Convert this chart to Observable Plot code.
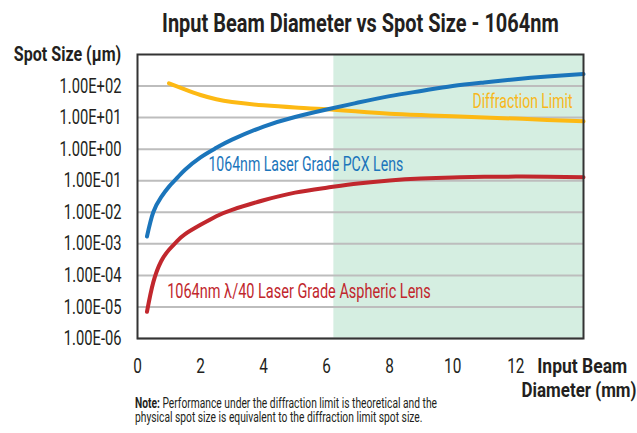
<!DOCTYPE html>
<html>
<head>
<meta charset="utf-8">
<script src="https://cdn.jsdelivr.net/npm/d3@7"></script>
<script src="https://cdn.jsdelivr.net/npm/@observablehq/plot@0.6"></script>
<style>
  html, body { margin: 0; padding: 0; background: #fff; }
  body { position: relative; width: 637px; height: 433px; overflow: hidden; font-family: Roboto, "Liberation Sans", sans-serif; color: #231f20; }
  #title { position: absolute; left: 0; top: 3px; width: 637px; line-height: 40px; font-size: 25.5px; font-weight: bold; text-align: center; padding-left: 83px; box-sizing: border-box; white-space: nowrap; }
  #title span { display: inline-block; transform-origin: 50% 50%; }
  #chart { position: absolute; left: 0; top: 40px; }
  #chart svg { display: block; }
  #note { position: absolute; left: 135px; top: 397.4px; font-size: 14.5px; line-height: 13.3px; white-space: nowrap; }
  #note span { display: inline-block; transform-origin: 0 50%; }
</style>
</head>
<body>
<div id="title"><span>Input Beam Diameter vs Spot Size - 1064nm</span></div>
<div id="chart"></div>
<div id="note"><span><b>Note:</b> Performance under the diffraction limit is theoretical and the</span><br><span>physical spot size is equivalent to the diffraction limit spot size.</span></div>
<script>
// ---- data ----
const lensDiameter = [0.3, 0.5, 0.75, 1, 1.25, 1.5, 2, 2.5, 3, 4, 5, 6, 7, 8, 9, 10, 11, 12, 13, 14.15];
const pcxSpot =      [0.0017, 0.010, 0.030, 0.065, 0.12, 0.22, 0.55, 1.1, 2.0, 5.2, 10.5, 18, 30, 48, 70, 100, 130, 165, 200, 240];
const asphereSpot =  [7e-6, 6e-5, 2.8e-4, 6.5e-4, 1.2e-3, 2.0e-3, 4.0e-3, 7.5e-3, 0.012, 0.024, 0.042, 0.060, 0.082, 0.102, 0.117, 0.127, 0.133, 0.135, 0.133, 0.128];
const diffDiameter = [1, 1.5, 2, 2.5, 3, 4, 5, 6, 7, 8, 9, 10, 11, 12, 13, 14.15];
const diffSpot =     [122, 78, 52, 38, 31, 24.5, 21, 18.5, 15.5, 13.2, 12, 11, 10, 9.3, 8.4, 7.6];
const yTicks = [1e-6, 1e-5, 1e-4, 1e-3, 1e-2, 1e-1, 1e0, 1e1, 1e2];
const xTicks = [0, 2, 4, 6, 8, 10, 12];
const shadeStart = 6.23;
const shadeEnd = 14.15;
const seriesNames = ["1064nm Laser Grade PCX Lens", "1064nm λ/40 Laser Grade Aspheric Lens", "Diffraction Limit"];
const yLabel = "Spot Size (μm)";
const xLabelLines = ["Input Beam", "Diameter (mm)"];

const C_BLUE = "#1b75bb", C_RED = "#c1272d", C_YEL = "#fdb913", C_YEL_TXT = "#f8b71a";
const FONT = 'Roboto, "Liberation Sans", sans-serif';

const pcx = lensDiameter.map((x, i) => ({x, y: pcxSpot[i]}));
const asph = lensDiameter.map((x, i) => ({x, y: asphereSpot[i]}));
const diff = diffDiameter.map((x, i) => ({x, y: diffSpot[i]}));

function fmtSci(d) {
  const [m, e] = d.toExponential(2).split("e");
  const n = +e;
  return `${m}E${n < 0 ? "-" : "+"}${String(Math.abs(n)).padStart(2, "0")}`;
}

const chart = Plot.plot({
  width: 637,
  height: 352,
  marginLeft: 137,
  marginRight: 54,
  marginTop: 14,
  marginBottom: 54,
  style: {fontFamily: FONT, color: "#231f20", background: "transparent", overflow: "visible"},
  x: {domain: [0, 14.15]},
  y: {type: "log", domain: [1e-6, 1e3]},
  marks: [
    Plot.rect([{x1: shadeStart, x2: shadeEnd}], {x1: "x1", x2: "x2", fill: "#d5eee1"}),
    Plot.ruleY(yTicks, {stroke: "#bdbdbd", strokeWidth: 2}),
    Plot.axisY({ticks: yTicks, tickFormat: fmtSci, tickSize: 0, tickPadding: 16, fontSize: 20.5, label: null}),
    Plot.axisX({ticks: xTicks, tickFormat: d => String(d), tickSize: 0, tickPadding: 20, fontSize: 21, label: null}),
    Plot.line(diff, {x: "x", y: "y", stroke: C_YEL, strokeWidth: 4, curve: "natural", strokeLinecap: "round"}),
    Plot.line(pcx, {x: "x", y: "y", stroke: C_BLUE, strokeWidth: 4, curve: "natural", strokeLinecap: "round"}),
    Plot.line(asph, {x: "x", y: "y", stroke: C_RED, strokeWidth: 4, curve: "natural", strokeLinecap: "round"}),
    Plot.text([seriesNames[0]], {x: () => 2.25, y: () => 0.32, text: d => d, fill: C_BLUE, textAnchor: "start", fontSize: 20.5}),
    Plot.text([seriesNames[1]], {x: () => 0.94, y: () => 3.14e-5, text: d => d, fill: C_RED, textAnchor: "start", fontSize: 20.5}),
    Plot.text([seriesNames[2]], {x: () => 13.8, y: () => 33.6, text: d => d, fill: C_YEL_TXT, textAnchor: "end", fontSize: 20.5}),
    Plot.frame({stroke: "#333", strokeWidth: 2}),
    Plot.text([yLabel], {frameAnchor: "top-left", dx: -16.3, dy: 0, textAnchor: "end", lineAnchor: "middle", fontWeight: "bold", fontSize: 21}),
    Plot.text([xLabelLines[0]], {frameAnchor: "bottom-right", dx: -1.3, dy: 27.7, textAnchor: "middle", lineAnchor: "middle", fontWeight: "bold", fontSize: 21}),
    Plot.text([xLabelLines[1]], {frameAnchor: "bottom-right", dx: -4.5, dy: 51.5, textAnchor: "middle", lineAnchor: "middle", fontWeight: "bold", fontSize: 21})
  ]
});
document.getElementById("chart").appendChild(chart);

// Condense SVG texts horizontally (narrow typeface in the reference) by wrapping each in a scaled <g>
const SVGNS = "http://www.w3.org/2000/svg";
function wrapInfo(t) {
  const g = document.createElementNS(SVGNS, "g");
  t.parentNode.insertBefore(g, t);
  g.appendChild(t);
  const b = g.getBBox();
  const anchor = getComputedStyle(t).textAnchor || "start";
  const ax = anchor === "end" ? b.x + b.width : anchor === "middle" ? b.x + b.width / 2 : b.x;
  return {g, b, ax};
}
function condenseNodes(nodes, target, refText) {
  if (!nodes.length) return;
  const infos = nodes.map(wrapInfo);
  const refIdx = refText ? Math.max(0, nodes.findIndex(n => n.textContent === refText)) : 0;
  const w = infos[refIdx].b.width;
  if (!(w > 0)) return;
  const k = target / w;
  infos.forEach(({g, ax}) => g.setAttribute("transform", `translate(${ax},0) scale(${k},1) translate(${-ax},0)`));
}
const allText = () => Array.from(chart.querySelectorAll("text"));
const byText = s => allText().filter(n => n.textContent === s);
condenseNodes(Array.from(chart.querySelectorAll('[aria-label="y-axis tick label"] text')), 62, "1.00E+01");
condenseNodes(Array.from(chart.querySelectorAll('[aria-label="x-axis tick label"] text')), 17.3, "10");
condenseNodes(byText(seriesNames[0]), 195);
condenseNodes(byText(seriesNames[1]), 264);
condenseNodes(byText(seriesNames[2]), 100);
condenseNodes(byText(yLabel), 107.4);
condenseNodes(byText(xLabelLines[0]), 90);
condenseNodes(byText(xLabelLines[1]), 115);

// HTML title & note
const t = document.querySelector("#title span");
t.style.transform = `scaleX(${396.6 / t.getBoundingClientRect().width})`;
const ns = document.querySelectorAll("#note span");
const kn = 302 / ns[0].getBoundingClientRect().width;
ns.forEach(s => s.style.transform = `scaleX(${kn})`);
</script>
</body>
</html>
